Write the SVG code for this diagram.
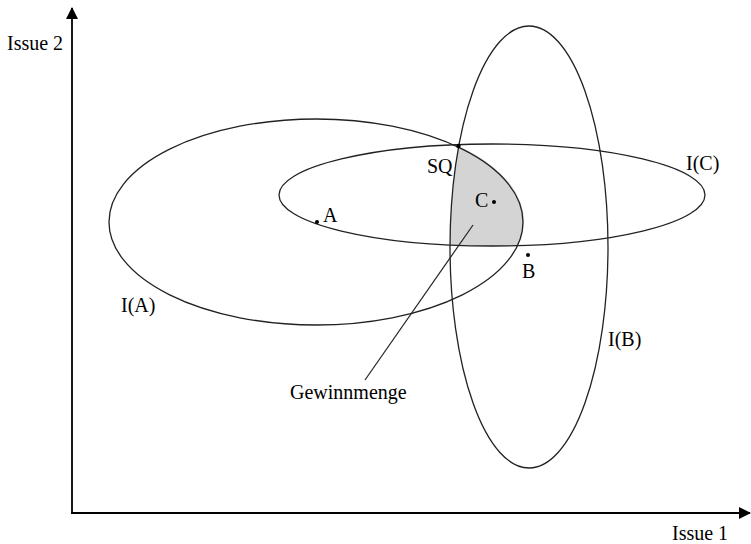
<svg xmlns="http://www.w3.org/2000/svg" width="751" height="544" viewBox="0 0 751 544">
<style>
.t{font-family:"Liberation Serif","Times New Roman",serif;font-size:20px;fill:#000}
.ell{fill:none;stroke:#222;stroke-width:1.3}
.ax{stroke:#000;stroke-width:1.8;fill:none}
.dot{fill:#000}
</style>
<defs>
<marker id="ah" viewBox="0 0 12 12" refX="11" refY="6" markerWidth="12" markerHeight="12" markerUnits="userSpaceOnUse" orient="auto">
<path d="M0,0 L12,6 L0,12 Z" fill="#000"/>
</marker>
</defs>
<rect width="751" height="544" fill="#fff"/>
<g id="winset">
<path d="M458.5,146 A79,221 0 0 0 450,245 A213,51 0 0 0 518,245.6 A207,103 0 0 0 458.5,146 Z" fill="#d4d4d4" stroke="none"/>
</g>
<g id="ellipse-A"><ellipse class="ell" cx="316" cy="222" rx="207" ry="103"/></g>
<g id="ellipse-B"><ellipse class="ell" cx="529" cy="247" rx="79" ry="221"/></g>
<g id="ellipse-C"><ellipse class="ell" cx="492" cy="195" rx="213" ry="51"/></g>
<g id="connectors">
<line class="ax" x1="72" y1="514" x2="72" y2="8" marker-end="url(#ah)"/>
<line class="ax" x1="71" y1="513" x2="750" y2="513" marker-end="url(#ah)"/>
<line x1="365" y1="380" x2="473" y2="225" stroke="#222" stroke-width="1.2"/>
</g>
<g id="point-A"><circle class="dot" cx="317" cy="222" r="2"/><text class="t" x="323" y="222">A</text></g>
<g id="point-B"><circle class="dot" cx="528" cy="255" r="2"/><text class="t" x="522" y="278">B</text></g>
<g id="point-C"><circle class="dot" cx="494" cy="202" r="2"/><text class="t" x="475" y="207">C</text></g>
<g id="point-SQ"><circle class="dot" cx="458.5" cy="146" r="2.2"/><text class="t" x="427" y="173">SQ</text></g>
<g id="labels">
<text class="t" x="7" y="50">Issue 2</text>
<text class="t" x="672" y="540">Issue 1</text>
<text class="t" x="121" y="312">I(A)</text>
<text class="t" x="686" y="170">I(C)</text>
<text class="t" x="608" y="346">I(B)</text>
<text class="t" x="290" y="399">Gewinnmenge</text>
</g>
</svg>
